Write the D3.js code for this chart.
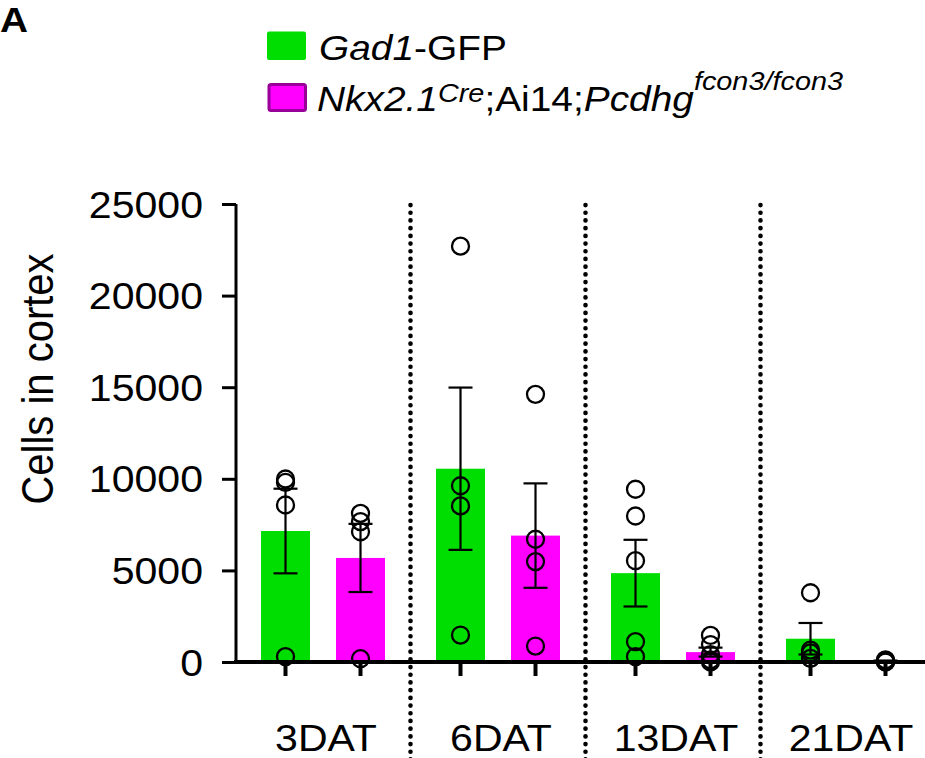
<!DOCTYPE html>
<html>
<head>
<meta charset="utf-8">
<script src="https://cdn.jsdelivr.net/npm/d3@7"></script>
<style>
  body { margin: 0; background: #fff; }
  text { font-family: Arial, "Liberation Sans", sans-serif; fill: #000; }
</style>
</head>
<body>
<div id="chart"></div>
<script>
let w = 925,
    h = 758;

// data
let groups = ["3DAT", "6DAT", "13DAT", "21DAT"];
let seriesKeys = ["gad", "nkx"];
let gadMean = [7150, 10550, 4850, 1270];
let gadSem = [2310, 4430, 1820, 860];
let nkxMean = [5680, 6900, 540, 50];
let nkxSem = [1860, 2850, 245, 30];
let gadPoints = [
  [9990, 9800, 8570, 290],
  [22700, 9620, 8520, 1470],
  [9430, 7970, 5530, 1110, 290],
  [3780, 650, 500, 200]
];
let nkxPoints = [
  [8110, 7660, 7110, 180],
  [14610, 6700, 5480, 870],
  [1450, 950, 400, 120, 0],
  [120, 60, 20, 0]
];
let yTicks = [0, 5000, 10000, 15000, 20000, 25000];

let colors = { gad: "#00dd00", nkx: "#ff00ff" };
// the figure's type is a little wider than Arial
let sx = 1.11;

let svg = d3.select("#chart")
            .append("svg")
            .attr("width", w)
            .attr("height", h);

let x = d3.scaleBand()
          .domain(groups)
          .range([235.5, 935.5])
          .padding(0);

let xSub = d3.scaleBand()
             .domain(seriesKeys)
             .range([25.5, 149.5])
             .paddingInner(0.3467)
             .paddingOuter(0);

let y = d3.scaleLinear()
          .domain([0, 25000])
          .range([662, 204]);

// build rows
let rows = [];
groups.forEach((g, i) => {
  rows.push({ group: g, key: "gad", mean: gadMean[i], sem: gadSem[i], pts: gadPoints[i] });
  rows.push({ group: g, key: "nkx", mean: nkxMean[i], sem: nkxSem[i], pts: nkxPoints[i] });
});
let cx = d => x(d.group) + xSub(d.key) + xSub.bandwidth() / 2;

// dotted separators
svg.selectAll(".sep")
   .data(groups.slice(1))
   .enter()
   .append("line")
   .attr("x1", d => x(d))
   .attr("x2", d => x(d))
   .attr("y1", 205)
   .attr("y2", h + 5)
   .attr("stroke", "#000")
   .attr("stroke-width", 4.6)
   .attr("stroke-linecap", "round")
   .attr("stroke-dasharray", "0.1,7.6");

// bars
svg.selectAll(".bar")
   .data(rows)
   .enter()
   .append("rect")
   .attr("x", d => x(d.group) + xSub(d.key))
   .attr("width", xSub.bandwidth())
   .attr("y", d => y(d.mean))
   .attr("height", d => y(0) - y(d.mean))
   .attr("fill", d => colors[d.key]);

// error bars
let eb = svg.selectAll(".err")
            .data(rows)
            .enter()
            .append("g")
            .attr("stroke", "#000")
            .attr("stroke-width", 2.2);
eb.append("line")
  .attr("x1", cx).attr("x2", cx)
  .attr("y1", d => y(d.mean + d.sem))
  .attr("y2", d => y(Math.max(0, d.mean - d.sem)));
eb.append("line")
  .attr("x1", d => cx(d) - 12).attr("x2", d => cx(d) + 12)
  .attr("y1", d => y(d.mean + d.sem))
  .attr("y2", d => y(d.mean + d.sem));
eb.append("line")
  .attr("x1", d => cx(d) - 12).attr("x2", d => cx(d) + 12)
  .attr("y1", d => y(Math.max(0, d.mean - d.sem)))
  .attr("y2", d => y(Math.max(0, d.mean - d.sem)));

// individual points
rows.forEach(r => {
  svg.selectAll(null)
     .data(r.pts)
     .enter()
     .append("circle")
     .attr("cx", cx(r))
     .attr("cy", v => y(v))
     .attr("r", 8.5)
     .attr("fill", "none")
     .attr("stroke", "#000")
     .attr("stroke-width", 2.3);
});

// y axis
let yAxis = svg.append("g")
               .attr("transform", "translate(236,0)")
               .call(d3.axisLeft(y).tickValues(yTicks).tickSize(14).tickFormat(d3.format("d")));
yAxis.select(".domain").attr("stroke-width", 3).attr("d", "M0," + y(25000) + "V" + y(0));
yAxis.selectAll(".tick line").attr("stroke-width", 3);
yAxis.selectAll(".tick text")
     .attr("x", null)
     .attr("dy", null)
     .attr("transform", "translate(-33,13) scale(" + sx + ",1)")
     .style("font-family", "Arial, 'Liberation Sans', sans-serif")
     .style("font-size", "37px");

// x axis line + ticks under each bar
svg.append("line")
   .attr("x1", 234).attr("x2", w)
   .attr("y1", 662).attr("y2", 662)
   .attr("stroke", "#000")
   .attr("stroke-width", 4);
svg.selectAll(".xtick")
   .data(rows)
   .enter()
   .append("line")
   .attr("x1", cx).attr("x2", cx)
   .attr("y1", 662).attr("y2", 676)
   .attr("stroke", "#000")
   .attr("stroke-width", 4);

// group labels
svg.selectAll(".glabel")
   .data(groups)
   .enter()
   .append("text")
   .attr("transform", d => "translate(" + (x(d) + x.bandwidth() / 2 + 3) + ",751) scale(" + sx + ",1)")
   .attr("text-anchor", "middle")
   .style("font-size", "37px")
   .text(d => d);

// y label
svg.append("text")
   .attr("transform", "translate(53,379) scale(" + sx + ",1) rotate(-90)")
   .attr("text-anchor", "middle")
   .style("font-size", "40px")
   .text("Cells in cortex");

// panel letter
svg.append("text")
   .attr("transform", "translate(0,32) scale(" + sx + ",1)")
   .style("font-size", "35px")
   .style("font-weight", "bold")
   .text("A");

// legend
svg.append("rect")
   .attr("x", 267).attr("y", 31.5)
   .attr("width", 39).attr("height", 28.5)
   .attr("rx", 2)
   .attr("fill", colors.gad);
svg.append("rect")
   .attr("x", 269).attr("y", 84.5)
   .attr("width", 36.5).attr("height", 26)
   .attr("rx", 2)
   .attr("fill", colors.nkx)
   .attr("stroke", "#990099")
   .attr("stroke-width", 3);

let l1 = svg.append("text")
            .attr("transform", "translate(319,60) scale(" + sx + ",1)")
            .style("font-size", "35px");
l1.append("tspan").style("font-style", "italic").text("Gad1");
l1.append("tspan").text("-GFP");

let l2 = svg.append("text")
            .attr("transform", "translate(317,111) scale(" + sx + ",1)")
            .style("font-size", "35px");
l2.append("tspan").style("font-style", "italic").text("Nkx2.1");
l2.append("tspan").style("font-style", "italic").style("font-size", "26px").attr("dy", -9).text("Cre");
l2.append("tspan").attr("dy", 9).text(";Ai14;");
l2.append("tspan").style("font-style", "italic").text("Pcdhg");
l2.append("tspan").style("font-style", "italic").style("font-size", "26px").attr("dy", -21).text("fcon3/fcon3");
</script>
</body>
</html>
